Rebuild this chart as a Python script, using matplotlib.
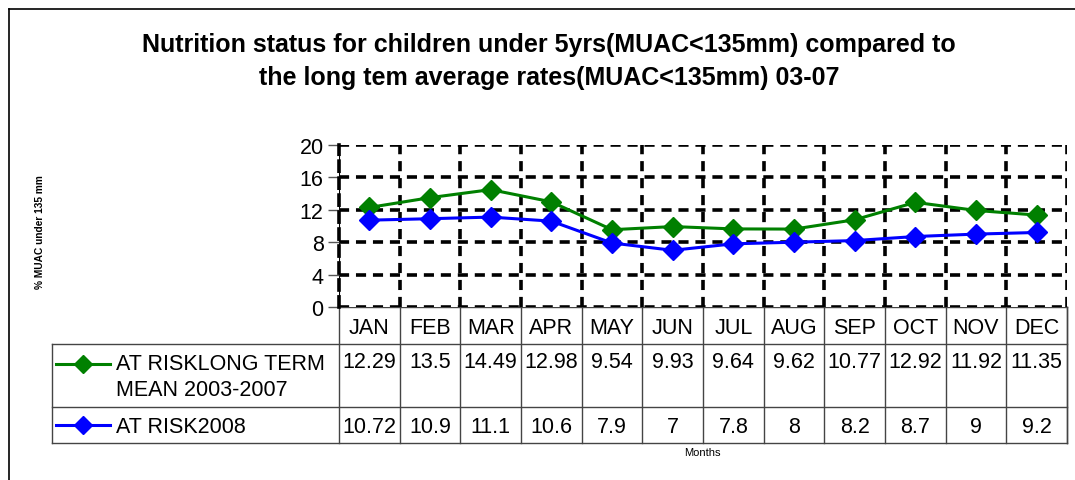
import matplotlib
matplotlib.use("Agg")
import matplotlib.pyplot as plt
import matplotlib.transforms as mtransforms
import numpy as np

plt.rcParams['font.family'] = ['Liberation Sans', 'DejaVu Sans']

months = ['JAN', 'FEB', 'MAR', 'APR', 'MAY', 'JUN', 'JUL', 'AUG', 'SEP', 'OCT', 'NOV', 'DEC']
long_term = [12.29, 13.5, 14.49, 12.98, 9.54, 9.93, 9.64, 9.62, 10.77, 12.92, 11.92, 11.35]
long_term_txt = ['12.29', '13.5', '14.49', '12.98', '9.54', '9.93', '9.64', '9.62', '10.77', '12.92', '11.92', '11.35']
risk_2008 = [10.72, 10.9, 11.1, 10.6, 7.9, 7, 7.8, 8, 8.2, 8.7, 9, 9.2]
risk_2008_txt = ['10.72', '10.9', '11.1', '10.6', '7.9', '7', '7.8', '8', '8.2', '8.7', '9', '9.2']
series_names = ['AT RISKLONG TERM\nMEAN 2003-2007', 'AT RISK2008']
yticks = [0, 4, 8, 12, 16, 20]

W, H = 1075, 481
fig = plt.figure(figsize=(W / 100, H / 100), dpi=100)

# overlay in pixel coords for frame and table
ov = fig.add_axes([0, 0, 1, 1])
ov.set_xlim(0, W)
ov.set_ylim(H, 0)
ov.axis('off')

ax = fig.add_axes([339 / W, 1 - 308 / H, (1067 - 339) / W, (308 - 146) / H])
x = np.arange(len(months))
ax.set_xlim(-0.5, len(months) - 0.5)
ax.set_ylim(0, 20)

dash = (0, (2.8, 1.9))
lw_grid = 2.6
for v in yticks[1:]:
    ax.axhline(v, color='black', lw=lw_grid, ls=dash, zorder=1)
for b in np.arange(0.5, len(months), 1.0):
    ax.axvline(b, color='black', lw=lw_grid, ls=dash, zorder=1)
ax.axhline(0, color='black', lw=lw_grid, ls=dash, zorder=1)
for s in ['top', 'bottom', 'right']:
    ax.spines[s].set_visible(False)
ax.spines['left'].set_linewidth(lw_grid)
ax.spines['left'].set_linestyle(dash)
ax.axvline(-0.5, color='black', lw=0.8, zorder=1)

ax.plot(x, long_term, color='#008000', lw=2.2, marker='D', ms=10, zorder=3)
ax.plot(x, risk_2008, color='#0000ff', lw=2.2, marker='D', ms=10, zorder=3)

ax.set_yticks(yticks)
ax.set_yticklabels([str(t) for t in yticks], fontsize=15.5)
ax.tick_params(axis='y', length=8, width=1, color='#555555', pad=3)
ax.set_xticks([])

# figure frame (left and top only visible)
ov.plot([9, 9], [10, H], color='black', lw=1.2)
ov.plot([9, W], [10, 10], color='black', lw=1.2)

fig.text(549 / W, 1 - 45 / H, 'Nutrition status for children under 5yrs(MUAC<135mm) compared to',
         ha='center', va='center', fontsize=18, fontweight='bold')
fig.text(549 / W, 1 - 78 / H, 'the long tem average rates(MUAC<135mm) 03-07',
         ha='center', va='center', fontsize=18, fontweight='bold')
fig.text(40 / W, 1 - 232 / H, '% MUAC under 135 mm', rotation=90, ha='center', va='center',
         fontsize=7.3, fontweight='bold')
fig.text(702 / W, 1 - 453 / H, 'Months', ha='center', va='center', fontsize=8)

# data table
tr = mtransforms.blended_transform_factory(ax.transData, ov.transData)
gc = '#444444'
fs = 15.5
y_head, y_r1, y_r2, y_end = 308, 345, 408, 444
for b in np.arange(-0.5, len(months), 1.0):
    ov.plot([b, b], [y_head, y_end], color=gc, lw=1.0, transform=tr, clip_on=False)
ov.plot([11.5, 11.5], [y_head, y_end], color=gc, lw=1.0, transform=tr, clip_on=False)
ov.plot([339, 1067], [y_head, y_head], color=gc, lw=1.0)
for yy in [y_r1, y_r2, y_end]:
    ov.plot([52, 1067], [yy, yy], color=gc, lw=1.0)
ov.plot([52, 52], [y_r1, y_end], color=gc, lw=1.0)

for i, m in enumerate(months):
    ov.text(i, (y_head + y_r1) / 2 + 2, m, transform=tr, ha='center', va='center', fontsize=fs)
    ov.text(i, y_r1 + 18, long_term_txt[i], transform=tr, ha='center', va='center', fontsize=fs)
    ov.text(i, (y_r2 + y_end) / 2 + 2, risk_2008_txt[i], transform=tr, ha='center', va='center', fontsize=fs)

# legend keys in the table's first column
ov.plot([56, 110], [y_r1 + 20, y_r1 + 20], color='#008000', lw=2.2)
ov.plot([83], [y_r1 + 20], color='#008000', marker='D', ms=9)
ov.text(116, y_r1 + 9, series_names[0], ha='left', va='top', fontsize=fs, linespacing=1.3)

y2 = (y_r2 + y_end) / 2
ov.plot([56, 110], [y2, y2], color='#0000ff', lw=2.2)
ov.plot([83], [y2], color='#0000ff', marker='D', ms=9)
ov.text(116, y2 + 2, series_names[1], ha='left', va='center', fontsize=fs)

fig.savefig('out.png', dpi=100)
